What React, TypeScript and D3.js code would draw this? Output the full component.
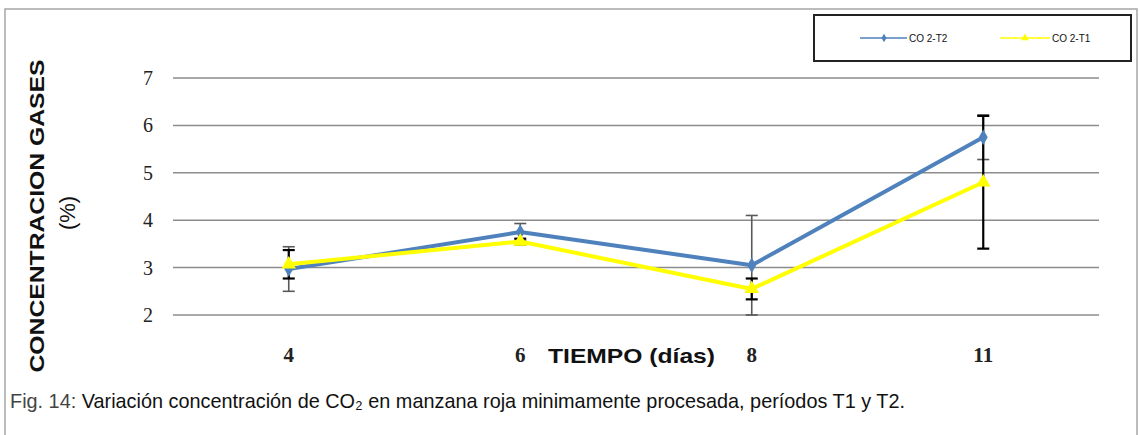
import React from "react";
import * as d3 from "d3";

const categories = ["4", "6", "8", "11"];
const seriesT2 = [2.97, 3.75, 3.05, 5.75];
const errT2 = [0.47, 0.18, 1.05, 0.47];
const seriesT1 = [3.07, 3.55, 2.55, 4.8];
const errT1 = [0.3, 0.06, 0.22, 1.4];
const yTicks = [2, 3, 4, 5, 6, 7];
const seriesNames = ["CO 2-T2", "CO 2-T1"];

const W = 1140;
const H = 435;

export default function App() {
  const x = d3.scaleBand<string>().domain(categories).range([173, 1099]);
  const y = d3.scaleLinear().domain([2, 7]).range([315, 78]);
  const cx = (c: string) => (x(c) as number) + x.bandwidth() / 2;

  const line = d3
    .line<number>()
    .x((_, i) => cx(categories[i]))
    .y((d) => y(d));

  const diamond = d3.symbol().type(d3.symbolDiamond).size(70)() as string;
  const triangle = d3.symbol().type(d3.symbolTriangle).size(90)() as string;

  const errBars = (vals: number[], errs: number[], color: string, sw: number, key: string) =>
    vals.map((v, i) => {
      const xc = cx(categories[i]);
      const y1 = y(v + errs[i]);
      const y0 = y(v - errs[i]);
      return (
        <g key={key + i} stroke={color} strokeWidth={sw}>
          <line x1={xc} x2={xc} y1={y1} y2={y0} />
          <line x1={xc - 6} x2={xc + 6} y1={y1} y2={y1} />
          <line x1={xc - 6} x2={xc + 6} y1={y0} y2={y0} />
        </g>
      );
    });

  return (
    <svg
      width={W}
      height={H}
      style={{ position: "absolute", left: 0, top: 0, background: "#fff" }}
    >
      {/* frame */}
      <path d={`M5,${H} V9 H1137 V${H}`} fill="none" stroke="#a6a6a6" strokeWidth={1.5} />

      {/* gridlines */}
      {yTicks.map((t) => (
        <line key={t} x1={173} x2={1099} y1={y(t)} y2={y(t)} stroke="#8c8c8c" strokeWidth={1.5} />
      ))}

      {/* y tick labels */}
      {yTicks.map((t) => (
        <text
          key={"yt" + t}
          x={153}
          y={y(t)}
          dy="0.35em"
          textAnchor="end"
          fontFamily="'Liberation Serif', 'DejaVu Serif', serif"
          fontSize={20}
          fill="#222"
        >
          {t}
        </text>
      ))}

      {/* x tick labels */}
      {categories.map((c) => (
        <text
          key={"xt" + c}
          x={cx(c)}
          y={362}
          textAnchor="middle"
          fontFamily="'Liberation Serif', 'DejaVu Serif', serif"
          fontWeight="bold"
          fontSize={21}
          fill="#222"
        >
          {c}
        </text>
      ))}

      {/* x axis title */}
      <text
        x={548}
        y={363}
        fontFamily="'Liberation Sans', Arial, sans-serif"
        fontWeight="bold"
        fontSize={21}
        textLength={167}
        lengthAdjust="spacingAndGlyphs"
        fill="#111"
      >
        TIEMPO (días)
      </text>

      {/* y axis title */}
      <g transform="translate(37,216) rotate(-90)">
        <text
          x={0}
          y={0}
          dy="0.35em"
          textAnchor="middle"
          fontFamily="'Liberation Sans', Arial, sans-serif"
          fontWeight="bold"
          fontSize={21}
          textLength={313}
          lengthAdjust="spacingAndGlyphs"
          fill="#111"
        >
          CONCENTRACION GASES
        </text>
        <text
          x={3}
          y={30}
          dy="0.35em"
          textAnchor="middle"
          fontFamily="'Liberation Sans', Arial, sans-serif"
          fontSize={22}
          fill="#111"
        >
          (%)
        </text>
      </g>

      {/* error bars */}
      {errBars(seriesT2, errT2, "#595959", 1.6, "e2")}
      {errBars(seriesT1, errT1, "#000", 2.2, "e1")}

      {/* series T2 */}
      <path d={line(seriesT2) as string} fill="none" stroke="#4F81BD" strokeWidth={4} strokeLinejoin="round" />
      {seriesT2.map((v, i) => (
        <path key={"d" + i} d={diamond} transform={`translate(${cx(categories[i])},${y(v)})`} fill="#4F81BD" />
      ))}

      {/* series T1 */}
      <path d={line(seriesT1) as string} fill="none" stroke="#FFFF00" strokeWidth={4} strokeLinejoin="round" />
      {seriesT1.map((v, i) => (
        <path key={"t" + i} d={triangle} transform={`translate(${cx(categories[i])},${y(v)})`} fill="#FFFF00" />
      ))}

      {/* legend */}
      <rect x={814} y={15} width={317} height={46} fill="#fff" stroke="#222" strokeWidth={2} />
      <line x1={860} x2={907} y1={38} y2={38} stroke="#4F81BD" strokeWidth={1.5} />
      <path d={d3.symbol().type(d3.symbolDiamond).size(22)() as string} transform="translate(884,38)" fill="#4F81BD" />
      <text x={909} y={38} dy="0.35em" fontFamily="'Liberation Sans Narrow', 'Liberation Sans', sans-serif" fontSize={10} fill="#111">
        {seriesNames[0]}
      </text>
      <line x1={1000} x2={1050} y1={38} y2={38} stroke="#FFFF00" strokeWidth={1.5} />
      <path d={d3.symbol().type(d3.symbolTriangle).size(26)() as string} transform="translate(1025,38)" fill="#FFFF00" />
      <text x={1052} y={38} dy="0.35em" fontFamily="'Liberation Sans Narrow', 'Liberation Sans', sans-serif" fontSize={10} fill="#111">
        {seriesNames[1]}
      </text>

      {/* caption */}
      <text
        x={10}
        y={408}
        fontFamily="'Liberation Sans Narrow', 'Liberation Sans', sans-serif"
        fontSize={21}
        textLength={895}
        lengthAdjust="spacingAndGlyphs"
        fill="#111"
      >
        <tspan fill="#444">Fig. 14: </tspan>
        {"Variación concentración de CO₂ en manzana roja minimamente procesada, períodos T1 y T2."}
      </text>
    </svg>
  );
}
